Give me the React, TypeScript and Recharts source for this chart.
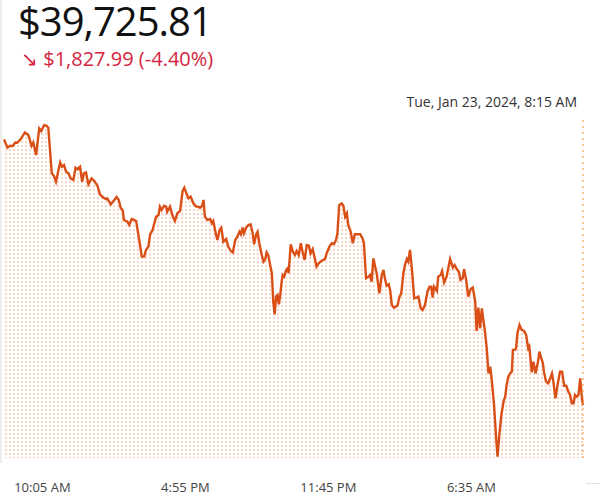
import React from "react";
import {
  ComposedChart,
  Area,
  XAxis,
  YAxis,
  ReferenceLine,
} from "recharts";

// minutes since Mon 8:15 AM
const minutes = [
  0, 10, 17, 25, 32, 38, 48, 60, 70, 79, 84, 92, 101, 107, 115, 122, 127, 137, 143, 149,
  161, 166, 172, 178, 185, 191, 199, 205, 210, 218, 224, 229, 235, 242, 251, 259, 268, 275, 285, 293,
  296, 306, 314, 323, 329, 335, 340, 344, 354, 359, 366, 373, 379, 385, 390, 395, 402, 407, 414, 419,
  426, 436, 443, 447, 452, 459, 465, 468, 476, 484, 490, 497, 505, 512, 517, 524, 529, 535, 543, 551,
  557, 562, 568, 572, 576, 583, 591, 596, 600, 608, 612, 618, 623, 629, 637, 643, 650, 656, 663, 669,
  675, 679, 684, 688, 694, 701, 707, 713, 717, 723, 727, 732, 739, 744, 749, 753, 758, 763, 768, 772,
  776, 780, 784, 788, 792, 796, 799, 803, 809, 813, 816, 822, 828, 834, 839, 845, 851, 856, 862, 868,
  874, 879, 885, 891, 896, 902, 911, 920, 925, 933, 940, 946, 952, 956, 961, 968, 973, 978, 983, 987,
  994, 1000, 1006, 1021, 1028, 1032, 1038, 1045, 1049, 1054, 1059, 1064, 1069, 1076, 1083, 1088, 1092, 1097, 1103, 1107,
  1112, 1118, 1128, 1134, 1139, 1145, 1150, 1155, 1159, 1164, 1170, 1176, 1183, 1188, 1195, 1200, 1207, 1214, 1220, 1225,
  1229, 1233, 1241, 1245, 1252, 1256, 1262, 1269, 1279, 1287, 1292, 1298, 1304, 1309, 1315, 1319, 1325, 1331, 1338, 1344,
  1351, 1355, 1360, 1365, 1370, 1374, 1379, 1384, 1389, 1394, 1398, 1405, 1411, 1415, 1420, 1426, 1432, 1437, 1441, 1446,
  1451, 1456, 1459, 1465, 1468, 1472, 1478, 1484, 1491, 1497, 1503, 1506, 1513, 1518, 1524, 1527, 1531, 1535, 1539, 1545,
  1548, 1554, 1560, 1566, 1571, 1575, 1581, 1587, 1594, 1600, 1606, 1612, 1618, 1623, 1628, 1633, 1637, 1642, 1647, 1652,
  1657, 1660,
];

const prices = [
  41559, 41502, 41515, 41513, 41538, 41536, 41561, 41607, 41589, 41515, 41538, 41451, 41635, 41617, 41658, 41653, 41640, 41325, 41308, 41267,
  41400, 41371, 41382, 41336, 41325, 41290, 41279, 41364, 41354, 41371, 41267, 41325, 41331, 41249, 41290, 41272, 41239, 41180, 41157, 41147,
  41152, 41111, 41134, 41161, 41141, 41083, 41072, 41003, 40991, 40968, 41009, 41003, 40996, 40904, 40830, 40750, 40750, 40796, 40819, 40904,
  40934, 41026, 41037, 41095, 41072, 41101, 41095, 41060, 41095, 41026, 40996, 41049, 41065, 41203, 41226, 41180, 41152, 41164, 41118, 41095,
  41095, 41088, 41101, 41141, 41026, 41003, 41009, 40980, 40996, 40899, 40865, 40934, 40950, 40853, 40871, 40819, 40789, 40779, 40865, 40888,
  40922, 40904, 40950, 40911, 40950, 40968, 40973, 40911, 40835, 40904, 40922, 40842, 40761, 40715, 40733, 40779, 40756, 40692, 40635, 40439,
  40352, 40474, 40485, 40421, 40485, 40577, 40623, 40612, 40658, 40669, 40635, 40835, 40784, 40761, 40789, 40761, 40842, 40784, 40727, 40830,
  40825, 40772, 40802, 40738, 40681, 40704, 40722, 40733, 40772, 40819, 40842, 40837, 40865, 40911, 41106, 41118, 41101, 41026, 41049, 40968,
  40922, 40842, 40904, 40904, 40876, 40842, 40600, 40612, 40623, 40577, 40738, 40681, 40628, 40497, 40623, 40658, 40600, 40549, 40559, 40520,
  40416, 40398, 40411, 40474, 40497, 40635, 40697, 40733, 40715, 40796, 40651, 40462, 40467, 40474, 40393, 40382, 40416, 40508, 40543, 40543,
  40467, 40543, 40513, 40612, 40623, 40651, 40572, 40612, 40733, 40674, 40692, 40664, 40646, 40589, 40600, 40664, 40589, 40474, 40526, 40536,
  40439, 40237, 40398, 40255, 40393, 40319, 40232, 40117, 39944, 39990, 39910, 39726, 39496, 39370, 39519, 39657, 39749, 39784, 39864, 39922,
  39944, 39956, 40106, 40106, 40117, 40221, 40278, 40244, 40237, 40209, 40117, 40129, 39951, 40025, 39944, 39979, 40025, 40094, 40060, 40014,
  39956, 39887, 39876, 39910, 39944, 39887, 39772, 39864, 39956, 39956, 39859, 39859, 39818, 39795, 39738, 39738, 39795, 39784, 39795, 39910,
  39772, 39726,
];

const tickMinutes = [110, 520, 930, 1340];
const tickLabels = ["10:05 AM", "4:55 PM", "11:45 PM", "6:35 AM"];

const data = minutes.map((t, i) => ({ t, price: prices[i] }));

const font = '"Open Sans", "Noto Sans", sans-serif';

export default function App() {
  return (
    <div
      style={{
        position: "absolute",
        left: 0,
        top: 0,
        width: 600,
        height: 501,
        background: "#fff",
        fontFamily: font,
        overflow: "hidden",
      }}
    >
      <div style={{ position: "absolute", left: 0, top: 0, width: 2, height: 463, background: "#ededed" }} />
      <div style={{ position: "absolute", left: 586, top: 483, width: 14, height: 1, background: "#e2e2e2" }} />
      <div
        style={{
          position: "absolute",
          left: 18,
          top: 1,
          fontSize: 40,
          lineHeight: 1,
          color: "#111",
          letterSpacing: -1,
        }}
      >
        $39,725.81
      </div>
      <div
        style={{
          position: "absolute",
          left: 21,
          top: 49,
          fontSize: 20,
          lineHeight: 1,
          color: "#d42440",
        }}
      >
        ↘ $1,827.99 (-4.40%)
      </div>
      <div
        style={{
          position: "absolute",
          right: 23,
          top: 95,
          fontSize: 14,
          lineHeight: 1,
          color: "#333",
        }}
      >
        Tue, Jan 23, 2024, 8:15 AM
      </div>
      <ComposedChart
        width={600}
        height={501}
        data={data}
        margin={{ top: 120, right: 17, left: 4, bottom: 13 }}
      >
        <defs>
          <pattern id="dots" width="4" height="4" patternUnits="userSpaceOnUse">
            <rect x="1" y="1" width="2" height="2" fill="#f6b38f" fillOpacity={0.55} />
          </pattern>
        </defs>
        <XAxis
          dataKey="t"
          type="number"
          domain={[0, 1660]}
          ticks={tickMinutes}
          tickFormatter={(v: number) => tickLabels[tickMinutes.indexOf(v)]}
          axisLine={false}
          tickLine={false}
          tickSize={0}
          tickMargin={25}
          height={30}
          tick={{ fontSize: 13, fill: "#444", fontFamily: font }}
        />
        <YAxis hide domain={[39360, 41693]} allowDataOverflow />
        <ReferenceLine
          x={1660}
          stroke="#f4a14b"
          strokeWidth={1.2}
          strokeDasharray="2 4"
        />
        <Area
          type="linear"
          dataKey="price"
          stroke="#d94f16"
          strokeWidth={2.4}
          fill="url(#dots)"
          fillOpacity={1}
          baseValue="dataMin"
          dot={false}
          activeDot={false}
          isAnimationActive={false}
        />
      </ComposedChart>
    </div>
  );
}
